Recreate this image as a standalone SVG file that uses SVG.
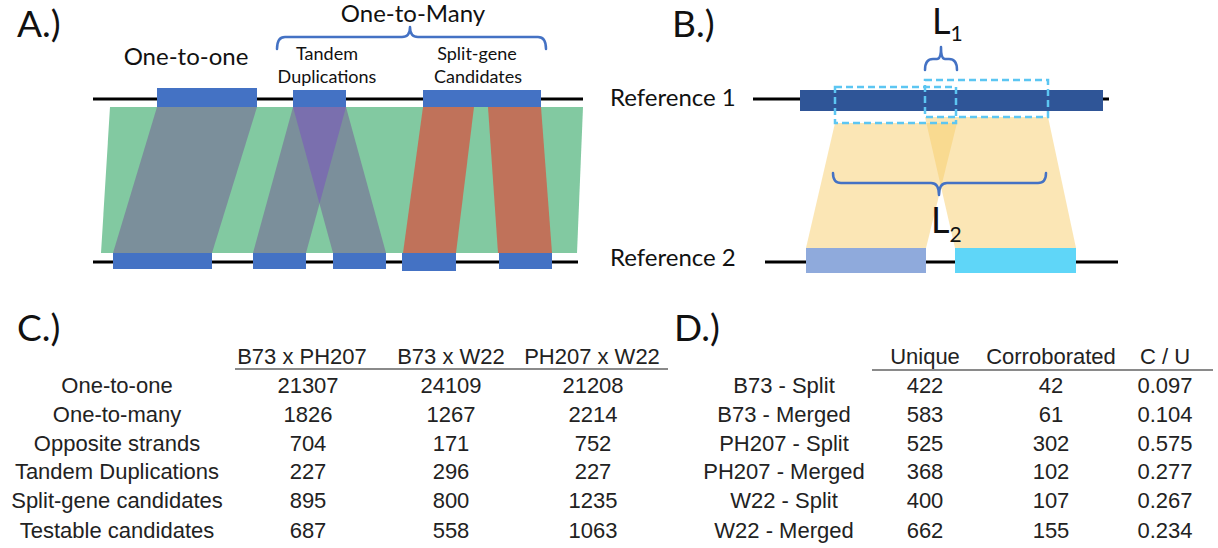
<svg xmlns="http://www.w3.org/2000/svg" width="1218" height="548" viewBox="0 0 1218 548">
<style>
.lbl{font-family:Lato,"Open Sans",sans-serif;fill:#111}
.panel{font-size:37px}
.mid{text-anchor:middle}
.tbl{font-family:"Liberation Sans",Arial,sans-serif;font-size:22px;fill:#222;text-anchor:middle}
.blue{fill:#4472c4}
.grey{fill:#7b8f9b}
.brown{fill:#c0725a}
.brk{fill:none;stroke:#4472c4;stroke-width:2.5;stroke-linejoin:round;stroke-linecap:round}
.chr{stroke:#000;stroke-width:3}
.dash{fill:none;stroke:#5cc6f2;stroke-width:2.5;stroke-dasharray:7 4}
.yel{fill:#f7cd6c;opacity:0.5}
.hr{stroke:#8a8a8a;stroke-width:2}
</style>

<g id="panelA">
  <text class="lbl panel" x="17" y="37">A.)</text>
  <polygon points="110,107 583,107 577,253 101,253" fill="#82c9a1"/>
  <line class="chr" x1="93" y1="99" x2="583" y2="99"/>
  <line class="chr" x1="93" y1="262" x2="578" y2="262"/>
  <g id="one-to-one">
    <polygon class="grey" points="157,107 257,107 212,253 113,253"/>
    <rect class="blue" x="157" y="88" width="100" height="19"/>
    <rect class="blue" x="113" y="253" width="99" height="16"/>
    <text class="lbl mid" x="186" y="65" font-size="24">One-to-one</text>
  </g>
  <g id="tandem">
    <polygon class="grey" points="293,107 346,107 306,253 253,253"/>
    <polygon class="grey" points="293,107 346,107 386,253 333,253"/>
    <polygon points="293,107 346,107 319.5,203.7" fill="#7a6fae"/>
    <rect class="blue" x="293" y="90" width="53" height="17"/>
    <rect class="blue" x="253" y="253" width="53" height="16"/>
    <rect class="blue" x="333" y="253" width="53" height="16"/>
    <text class="lbl mid" x="327" y="60" font-size="18">Tandem</text>
    <text class="lbl mid" x="327" y="83" font-size="18">Duplications</text>
  </g>
  <g id="split">
    <polygon class="brown" points="423,107 474,107 456,253 403,253"/>
    <polygon class="brown" points="488,107 541,107 552,253 498,253"/>
    <rect class="blue" x="423" y="90" width="118" height="17"/>
    <rect class="blue" x="402" y="253" width="54" height="18"/>
    <rect class="blue" x="499" y="253" width="53" height="16"/>
    <text class="lbl mid" x="477" y="60" font-size="18">Split-gene</text>
    <text class="lbl mid" x="478" y="83" font-size="18">Candidates</text>
  </g>
  <g id="one-to-many">
    <path class="brk" d="M277,49 Q277,37 285,37 L402,37 Q410,37 410,27 Q410,37 418,37 L538,37 Q546,37 546,49"/>
    <text class="lbl mid" x="413" y="22" font-size="24">One-to-Many</text>
  </g>
</g>

<g id="panelB">
  <text class="lbl panel" x="672" y="37">B.)</text>
  <polygon class="yel" points="835,123 957,123 926,248 806,248"/>
  <polygon class="yel" points="925,117 1048,117 1076,248 955,248"/>
  <line class="chr" x1="753" y1="99" x2="1109" y2="99"/>
  <line class="chr" x1="765" y1="262" x2="1118" y2="262"/>
  <g id="ref1">
    <rect x="800" y="90" width="303" height="21" fill="#2f5597"/>
    <text class="lbl" x="610" y="106" font-size="24">Reference 1</text>
  </g>
  <g id="ref2">
    <rect x="806" y="248" width="120" height="25" fill="#8faadc"/>
    <rect x="955" y="248" width="121" height="25" fill="#5fd6f8"/>
    <text class="lbl" x="610" y="266" font-size="24">Reference 2</text>
  </g>
  <g id="windows">
    <rect class="dash" x="835" y="87" width="121" height="36"/>
    <rect class="dash" x="925" y="80" width="123" height="37"/>
  </g>
  <g id="L1">
    <path class="brk" d="M925,70 Q925,59 933,59 L937,59 Q941,59 941,47 Q941,59 945,59 L949,59 Q957,59 957,70"/>
    <text class="lbl" x="932" y="34" font-size="36">L<tspan font-size="21" dy="7">1</tspan></text>
  </g>
  <g id="L2">
    <path class="brk" d="M833,173 Q833,183 841,183 L931,183 Q939,183 939,195 Q939,183 947,183 L1038,183 Q1046,183 1046,173"/>
    <text class="lbl" x="931" y="233" font-size="36">L<tspan font-size="21" dy="9">2</tspan></text>
  </g>
</g>

<g id="panelC">
  <text class="lbl panel" x="17" y="341">C.)</text>
  <line class="hr" x1="235" y1="369" x2="668" y2="369"/>
  <g class="tbl">
    <text x="302" y="364">B73 x PH207</text>
    <text x="451" y="364">B73 x W22</text>
    <text x="592" y="364">PH207 x W22</text>
    <text x="117" y="393">One-to-one</text>
    <text x="117" y="422">One-to-many</text>
    <text x="117" y="451">Opposite strands</text>
    <text x="117" y="479">Tandem Duplications</text>
    <text x="117" y="508">Split-gene candidates</text>
    <text x="117" y="538">Testable candidates</text>
    <text x="308" y="393">21307</text>
    <text x="308" y="422">1826</text>
    <text x="308" y="451">704</text>
    <text x="308" y="479">227</text>
    <text x="308" y="508">895</text>
    <text x="308" y="538">687</text>
    <text x="451" y="393">24109</text>
    <text x="451" y="422">1267</text>
    <text x="451" y="451">171</text>
    <text x="451" y="479">296</text>
    <text x="451" y="508">800</text>
    <text x="451" y="538">558</text>
    <text x="593" y="393">21208</text>
    <text x="593" y="422">2214</text>
    <text x="593" y="451">752</text>
    <text x="593" y="479">227</text>
    <text x="593" y="508">1235</text>
    <text x="593" y="538">1063</text>
  </g>
</g>

<g id="panelD">
  <text class="lbl panel" x="674" y="341">D.)</text>
  <line class="hr" x1="872" y1="370" x2="1213" y2="370"/>
  <g class="tbl">
    <text x="925" y="364">Unique</text>
    <text x="1051" y="364">Corroborated</text>
    <text x="1165" y="364">C / U</text>
    <text x="784" y="393">B73 - Split</text>
    <text x="784" y="422">B73 - Merged</text>
    <text x="784" y="451">PH207 - Split</text>
    <text x="784" y="479">PH207 - Merged</text>
    <text x="784" y="508">W22 - Split</text>
    <text x="784" y="538">W22 - Merged</text>
    <text x="925" y="393">422</text>
    <text x="925" y="422">583</text>
    <text x="925" y="451">525</text>
    <text x="925" y="479">368</text>
    <text x="925" y="508">400</text>
    <text x="925" y="538">662</text>
    <text x="1051" y="393">42</text>
    <text x="1051" y="422">61</text>
    <text x="1051" y="451">302</text>
    <text x="1051" y="479">102</text>
    <text x="1051" y="508">107</text>
    <text x="1051" y="538">155</text>
    <text x="1165" y="393">0.097</text>
    <text x="1165" y="422">0.104</text>
    <text x="1165" y="451">0.575</text>
    <text x="1165" y="479">0.277</text>
    <text x="1165" y="508">0.267</text>
    <text x="1165" y="538">0.234</text>
  </g>
</g>
</svg>
